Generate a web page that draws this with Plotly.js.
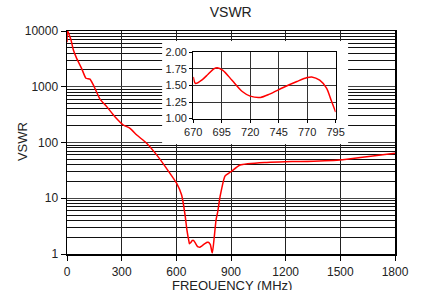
<!DOCTYPE html>
<html><head><meta charset="utf-8">
<script src="https://cdn.plot.ly/plotly-3.0.1.min.js"></script>
<style>html,body{margin:0;padding:0;background:#fff}#chart{width:421px;height:290px}</style>
</head><body><div id="chart"></div>
<script>
// Main curve, low band (MHz, VSWR)
const freqLow = [0, 3, 22, 35, 53, 80, 104, 126, 145, 181, 218, 263, 309, 346, 383, 437, 492, 547, 602, 629, 648, 658];
const vswrLow = [6300, 10000, 6900, 4560, 3230, 2140, 1420, 1370, 1070, 600, 440, 290, 206, 180, 136, 97, 60, 34, 18.5, 11.4, 5.0, 2.7];
// Inset detail 670-795 MHz
const freqZoom = [670, 672, 678, 683, 688, 691, 696, 704, 713, 720, 729, 737, 749, 761, 770, 774, 781, 787, 791, 795];
const vswrZoom = [1.63, 1.53, 1.59, 1.67, 1.75, 1.77, 1.73, 1.58, 1.41, 1.34, 1.32, 1.37, 1.47, 1.56, 1.62, 1.63, 1.58, 1.46, 1.28, 1.10];
// Main curve, high band
const freqHigh = [798, 808, 818, 827, 840, 867, 900, 950, 1096, 1196, 1280, 1498, 1645, 1800];
const vswrHigh = [1.05, 2.0, 4.1, 5.7, 10.7, 25, 30, 39.5, 44, 45.3, 45.5, 48.5, 55.6, 64];

const mainTicksY = [1, 10, 100, 1000, 10000];
const mainTicksX = [0, 300, 600, 900, 1200, 1500, 1800];
const zoomTicksX = [670, 695, 720, 745, 770, 795];
const zoomTicksY = [1.00, 1.25, 1.50, 1.75, 2.00];

const freqAll = freqLow.concat(freqZoom, freqHigh);
const vswrAll = vswrLow.concat(vswrZoom, vswrHigh);

const FONT = 'Liberation Sans, Arial, sans-serif';
const traces = [
  {x: freqAll, y: vswrAll, xaxis: 'x', yaxis: 'y', mode: 'lines',
   line: {color: '#ff0000', width: 1.5, shape: 'spline', smoothing: 0.5}, hoverinfo: 'skip'},
  // empty trace: white backing panel behind the inset
  {x: [], y: [], xaxis: 'x2', yaxis: 'y2', mode: 'lines', hoverinfo: 'skip'},
  {x: freqZoom, y: vswrZoom, xaxis: 'x3', yaxis: 'y3', mode: 'lines',
   line: {color: '#ff0000', width: 1.5, shape: 'spline', smoothing: 0.8}, hoverinfo: 'skip'}
];

const hidden = {visible: false, showgrid: false, zeroline: false, showline: false, ticks: '', showticklabels: false, fixedrange: true};

const layout = {
  width: 421, height: 290,
  margin: {l: 67, r: 26, t: 31, b: 36},
  paper_bgcolor: '#fff', plot_bgcolor: '#fff',
  showlegend: false,
  font: {family: FONT, size: 12, color: '#222'},
  title: {text: 'VSWR', x: 0.548, xanchor: 'center', y: 0.975, yanchor: 'top', font: {size: 14, color: '#222'}},
  xaxis: {
    domain: [0, 1], range: [0, 1800], tickvals: mainTicksX, ticktext: mainTicksX.map(String),
    showgrid: true, gridcolor: '#222', gridwidth: 1, zeroline: false,
    showline: true, linecolor: '#000', linewidth: 1.5, mirror: true,
    ticks: 'outside', ticklen: 5, tickcolor: '#000', ticklabelstandoff: 1,
    tickfont: {size: 12}
  },
  yaxis: {
    domain: [0, 1], type: 'log', range: [0, 4], tickvals: mainTicksY, ticktext: mainTicksY.map(String),
    showgrid: true, gridcolor: '#444', gridwidth: 1, zeroline: false,
    showline: true, linecolor: '#000', linewidth: 1.5, mirror: true,
    ticks: 'outside', ticklen: 5, tickcolor: '#000',
    minor: {dtick: 'D1', showgrid: true, gridcolor: '#111', gridwidth: 1, ticks: ''},
    tickfont: {size: 12}
  },
  xaxis2: Object.assign({domain: [0.290, 0.857], anchor: 'y2', range: [0, 1]}, hidden),
  yaxis2: Object.assign({domain: [0.493, 0.955], anchor: 'x2', range: [0, 1]}, hidden),
  xaxis3: {
    domain: [0.385, 0.819], anchor: 'y3', range: [670, 795], tickvals: zoomTicksX, ticktext: zoomTicksX.map(String),
    showgrid: true, gridcolor: '#333', gridwidth: 1, zeroline: false,
    showline: true, linecolor: '#000', linewidth: 1.2, mirror: true,
    ticks: 'outside', ticklen: 3, tickcolor: '#000', tickfont: {size: 11}
  },
  yaxis3: {
    domain: [0.607, 0.904], anchor: 'x3', range: [1, 2], tickvals: zoomTicksY, ticktext: zoomTicksY.map(v => v.toFixed(2)),
    showgrid: true, gridcolor: '#333', gridwidth: 1, zeroline: false,
    showline: true, linecolor: '#000', linewidth: 1.2, mirror: true,
    ticks: 'outside', ticklen: 3, tickcolor: '#000', tickfont: {size: 11}
  },
  annotations: [
    {text: 'VSWR', xref: 'paper', yref: 'paper', x: -0.137, y: 0.502, xanchor: 'center', yanchor: 'middle',
     textangle: -90, showarrow: false, font: {size: 13, color: '#222'}},
    {text: 'FREQUENCY (MHz)', xref: 'paper', yref: 'paper', x: 0.503, y: -0.105, xanchor: 'center', yanchor: 'top',
     showarrow: false, borderpad: 0, font: {size: 13, color: '#222'}}
  ]
};

Plotly.newPlot('chart', traces, layout, {staticPlot: true, displayModeBar: false});
</script></body></html>
